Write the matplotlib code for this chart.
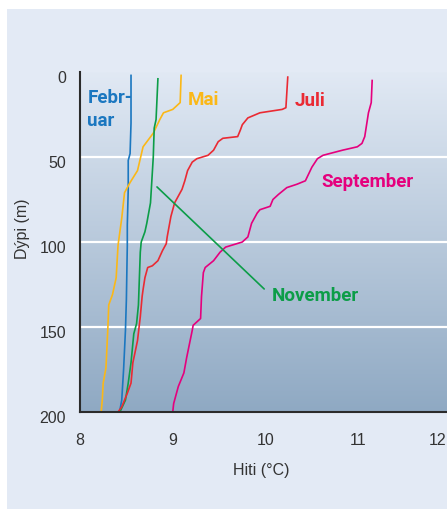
import numpy as np
import matplotlib.pyplot as plt
from matplotlib.colors import LinearSegmentedColormap
from matplotlib.patches import Rectangle
from matplotlib.transforms import ScaledTranslation

# Temperature profiles (temp in deg C, depth in m)
feb_t = [8.55, 8.55, 8.54, 8.52, 8.52, 8.51, 8.51, 8.50, 8.49, 8.47, 8.45, 8.43]
feb_d = [2, 30, 48, 52, 69, 90, 102, 134, 152, 175, 193, 199]

mai_t = [9.09, 9.08, 9.00, 8.90, 8.86, 8.79, 8.68, 8.65, 8.62, 8.54, 8.51, 8.48,
         8.45, 8.41, 8.39, 8.35, 8.31, 8.30, 8.28, 8.25, 8.24, 8.23]
mai_d = [2, 18, 22, 24, 28, 36, 44, 51, 58, 65, 68, 71,
         86, 102, 121, 131, 137, 151, 174, 183, 193, 199]

juli_t = [10.24, 10.22, 10.18, 9.94, 9.81, 9.75, 9.73, 9.70, 9.54, 9.49, 9.44, 9.38,
          9.26, 9.21, 9.16, 9.13, 9.10, 9.02, 8.98, 8.94, 8.93, 8.89, 8.84, 8.78,
          8.73, 8.70, 8.68, 8.67, 8.65, 8.62, 8.57, 8.55, 8.51, 8.45, 8.41]
juli_d = [3, 21, 22, 24, 27, 31, 34, 38, 39, 41, 46, 49,
          51, 53, 58, 64, 69, 77, 85, 97, 101, 105, 111, 114,
          115, 121, 128, 132, 144, 158, 171, 183, 189, 197, 200]

sept_t = [11.15, 11.14, 11.11, 11.07, 11.04, 10.99, 10.83, 10.62, 10.56, 10.50,
          10.43, 10.34, 10.23, 10.14, 10.08, 10.05, 9.94, 9.91, 9.85, 9.81, 9.75,
          9.57, 9.51, 9.44, 9.35, 9.33, 9.31, 9.30, 9.26, 9.22, 9.21, 9.15, 9.12,
          9.06, 9.04, 9.01, 9.00]
sept_d = [5, 18, 24, 38, 42, 44, 46, 49, 51, 56,
          64, 66, 68, 72, 75, 79, 81, 83, 89, 97, 100,
          103, 106, 111, 115, 118, 132, 145, 147, 149, 152, 168, 177,
          185, 189, 195, 200]

nov_t = [8.84, 8.82, 8.80, 8.79, 8.76, 8.72, 8.70, 8.66, 8.65, 8.63, 8.61, 8.58,
         8.55, 8.52, 8.49, 8.43]
nov_d = [4, 28, 33, 50, 77, 89, 94, 100, 106, 137, 148, 154,
         171, 183, 193, 200]

yticks = [0, 50, 100, 150, 200]
xticks = [8, 9, 10, 11]

c_feb, c_mai, c_juli, c_sept, c_nov = '#1b77c0', '#fbb817', '#ea2a33', '#e5007d', '#0c9d48'
txt = '#333333'

W, H = 447, 509
fig = plt.figure(figsize=(W / 100, H / 100), dpi=100)
fig.patch.set_facecolor('white')
fig.patches.append(Rectangle((7 / W, 0), 1, 1 - 9 / H, transform=fig.transFigure,
                             facecolor='#e3eaf5', edgecolor='none', zorder=-10))

ax = fig.add_axes([80 / W, (H - 412) / H, (451 - 80) / W, (412 - 72) / H])
ax.set_facecolor('none')

# background gradient
cmap = LinearSegmentedColormap.from_list('bg', ['#e1e9f4', '#8fa9c3'])
ax.imshow(np.linspace(0, 1, 256).reshape(-1, 1), extent=[8, 12, 200, 0],
          cmap=cmap, aspect='auto', zorder=0)
for d in [50, 100, 150]:
    ax.axhline(d, color='white', lw=1.6, zorder=1)

lw = 1.2
ax.plot(feb_t, feb_d, color=c_feb, lw=lw, zorder=3)
ax.plot(mai_t, mai_d, color=c_mai, lw=lw, zorder=3)
ax.plot(nov_t, nov_d, color=c_nov, lw=lw, zorder=3)
ax.plot(juli_t, juli_d, color=c_juli, lw=lw, zorder=3)
ax.plot(sept_t, sept_d, color=c_sept, lw=lw, zorder=3)

ax.set_xlim(8, 12)
ax.set_ylim(200, 0)

for s in ['top', 'right']:
    ax.spines[s].set_visible(False)
for s in ['left', 'bottom']:
    ax.spines[s].set_color('#2b2b2b')
    ax.spines[s].set_linewidth(1.5)
    ax.spines[s].set_zorder(5)

tf = dict(family=['Liberation Sans', 'DejaVu Sans'], size=11.5, color=txt)
ax.set_yticks(yticks)
ax.set_yticklabels([str(v) for v in yticks], **tf)
ax.set_xticks(xticks)
ax.set_xticklabels([str(v) for v in xticks], **tf)
ax.tick_params(axis='y', which='major', length=0, pad=10)
ax.tick_params(axis='x', which='major', length=0, pad=15)
ax.set_yticks([50, 100, 150], minor=True)
ax.set_xticks([9, 10, 11], minor=True)
ax.tick_params(which='minor', direction='in', length=5, width=1.5, color='#2b2b2b')

# y labels sit a little below their ticks in the original
shift = ScaledTranslation(0, -5 / 100, fig.dpi_scale_trans)
for lab in ax.get_yticklabels():
    lab.set_transform(lab.get_transform() + shift)

# last x label, partly past the right edge
ax.annotate('12', xy=(12, 0), xycoords=('data', 'axes fraction'), xytext=(-10, -15),
            textcoords='offset points', ha='center', va='top', annotation_clip=False, **tf)

fig.text(22 / W, 1 - 229 / H, 'Dýpi (m)', rotation=90, ha='center', va='center', **tf)
fig.text(261 / W, 1 - 470 / H, 'Hiti (°C)', ha='center', va='center', **tf)

lf = dict(family=['Roboto', 'DejaVu Sans'], weight='bold', size=13.5)
ax.text(8.08, 22, 'Febr-\nuar', color=c_feb, ha='left', va='center', linespacing=1.3, zorder=6, **lf)
ax.text(9.16, 16.5, 'Mai', color=c_mai, ha='left', va='center', zorder=6, **lf)
ax.text(10.31, 17, 'Juli', color=c_juli, ha='left', va='center', zorder=6, **lf)
ax.text(10.60, 64.5, 'September', color=c_sept, ha='left', va='center', zorder=6, **lf)
ax.annotate('November', xy=(8.83, 67.6), xytext=(10.07, 132), color=c_nov,
            ha='left', va='center', zorder=6,
            arrowprops=dict(arrowstyle='-', color=c_nov, lw=1.2, shrinkA=5, shrinkB=0,
                            relpos=(0, 0.5)), **lf)

fig.savefig('out.png', dpi=100)
